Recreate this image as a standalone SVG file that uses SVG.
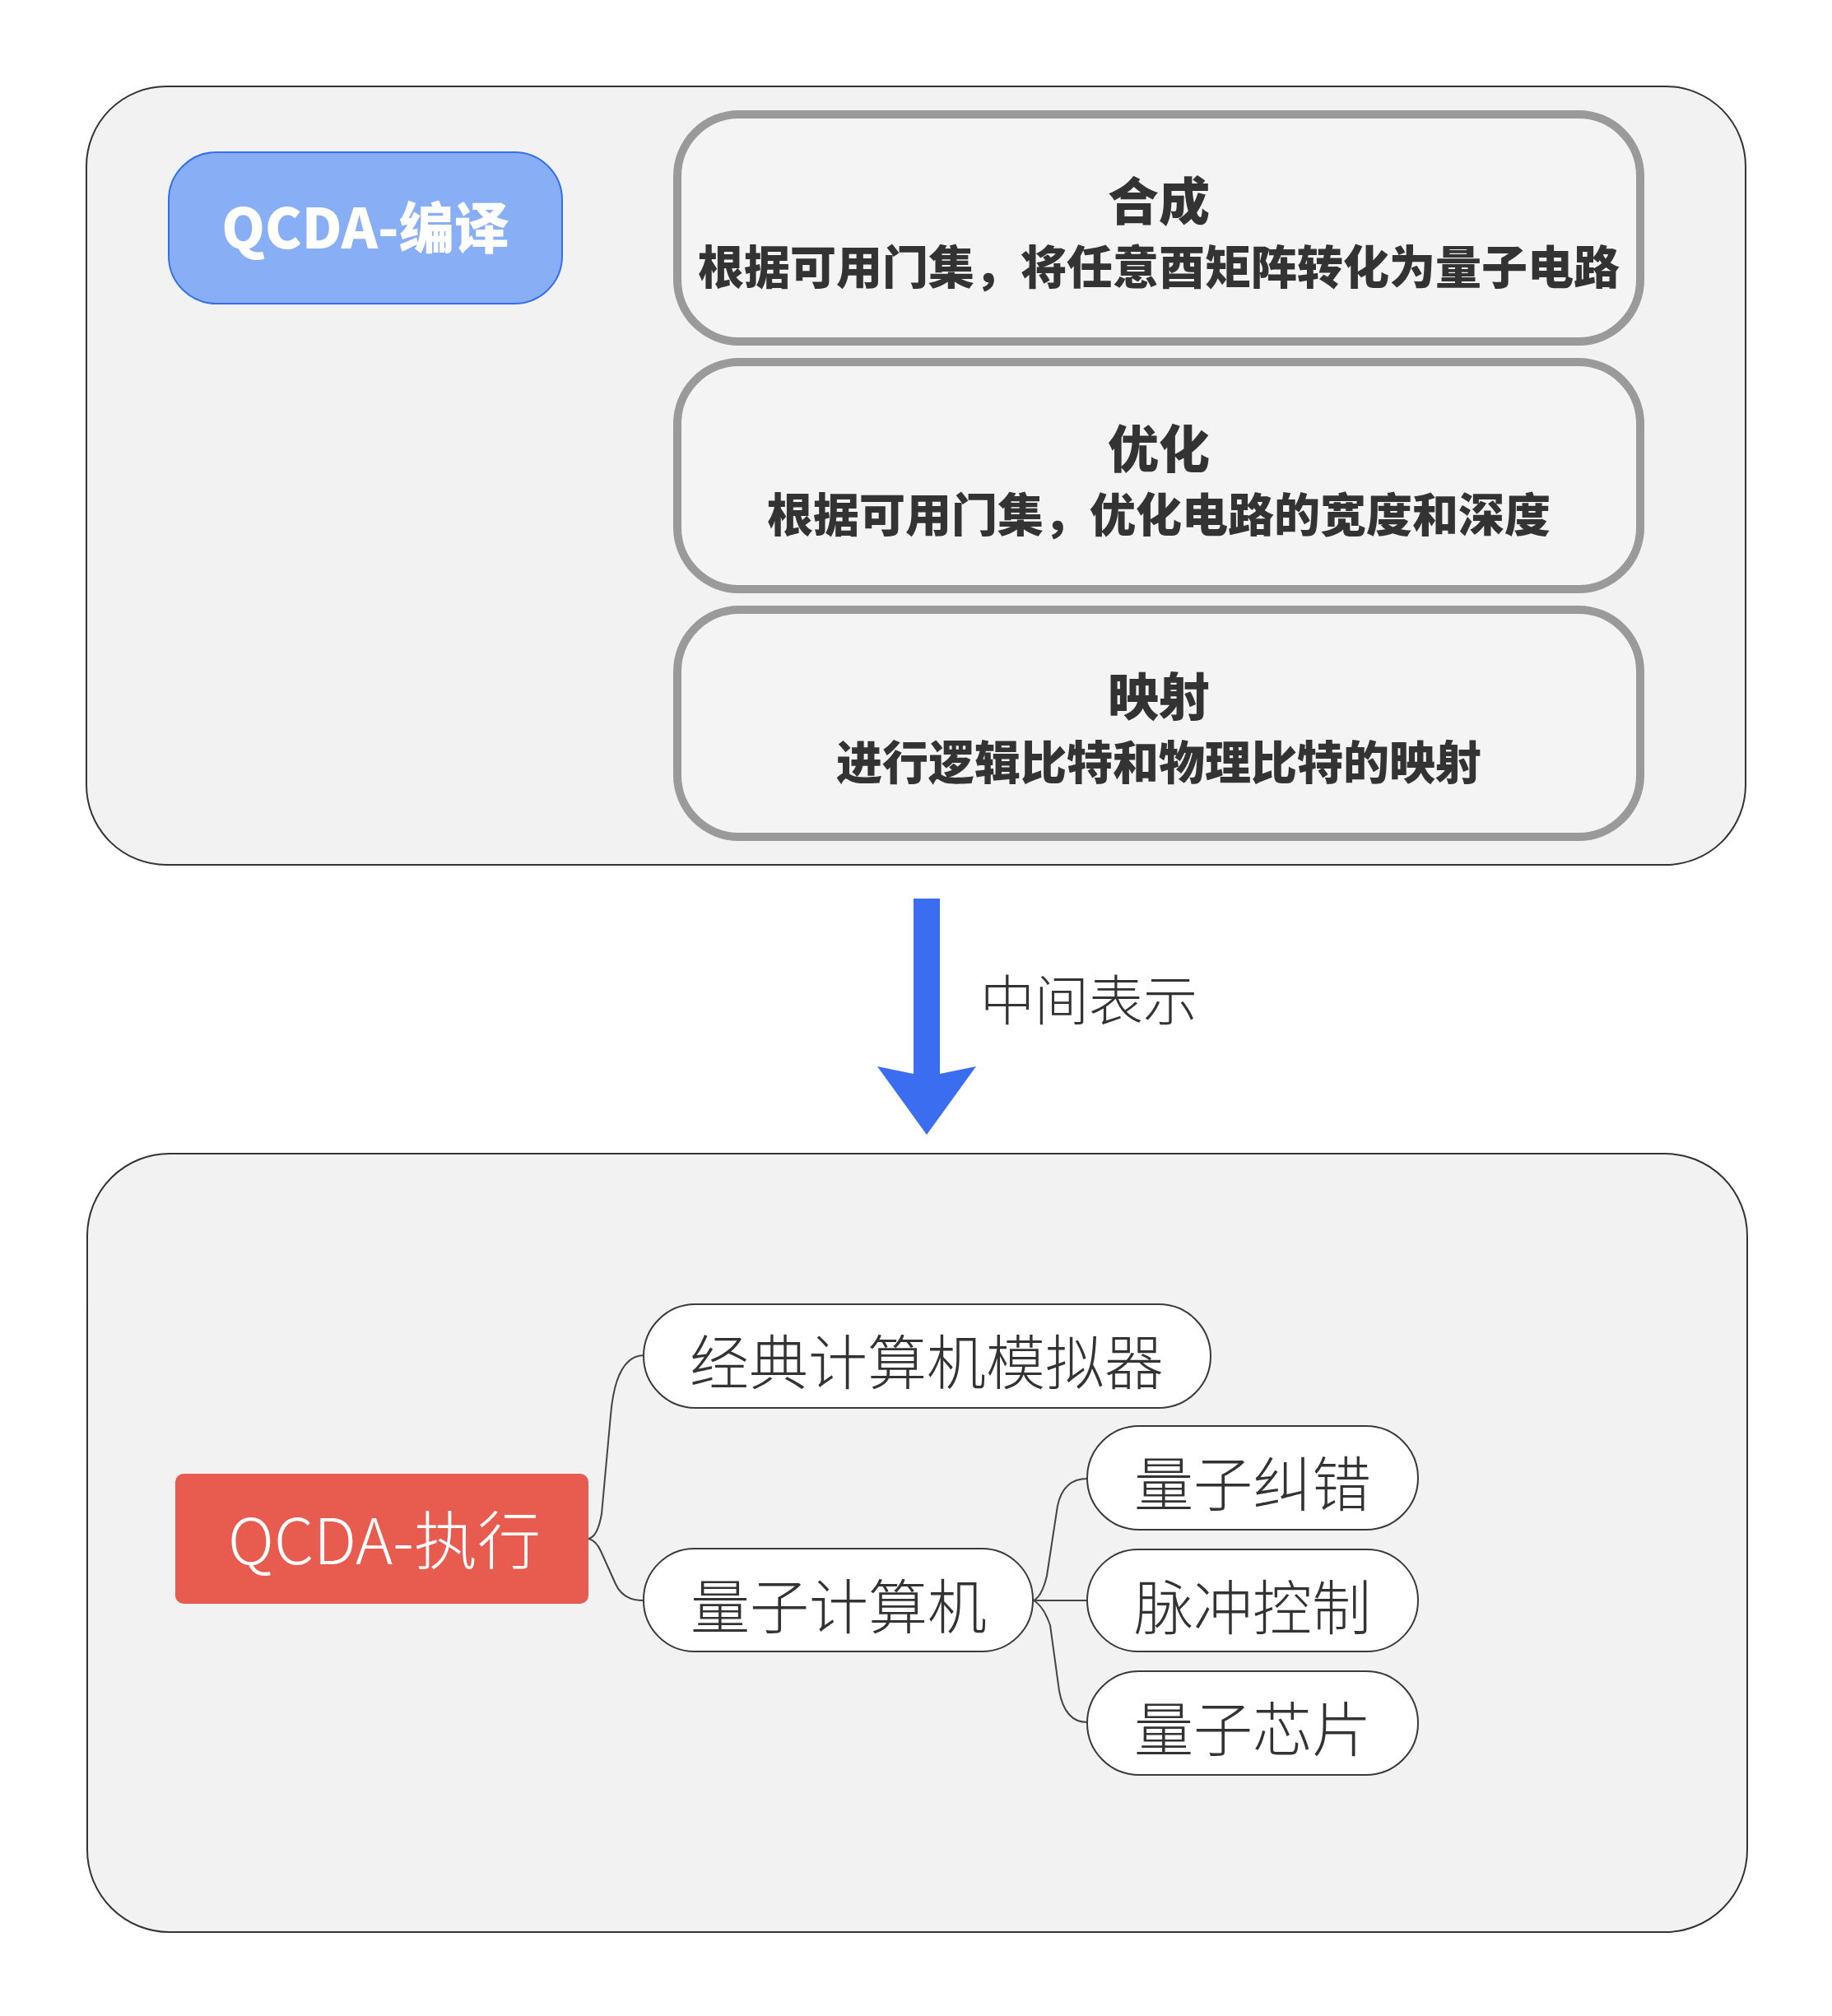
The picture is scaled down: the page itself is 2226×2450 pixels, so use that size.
<svg xmlns="http://www.w3.org/2000/svg" width="2226" height="2450" viewBox="0 0 2226 2450">
<defs>
<style>
.panel{fill:#f2f2f2;stroke:#333;stroke-width:2}
.step{fill:#f4f4f4;stroke:#9a9a9a;stroke-width:10}
.pill{fill:#fff;stroke:#3a3a3a;stroke-width:2}
.bold{font-family:"Noto Sans CJK SC","Noto Sans",sans-serif;font-weight:900;fill:#333;text-anchor:middle}
.light{font-family:"Noto Sans CJK SC","Noto Sans",sans-serif;font-weight:300;fill:#333}
.mid{text-anchor:middle}
.conn{fill:none;stroke:#444;stroke-width:2}
</style>
</defs>
<rect width="2226" height="2450" fill="#fff"/>
<g id="panel-compile">
<rect class="panel" x="105" y="105" width="2016" height="946" rx="97" ry="97"/>
</g>
<g id="node-compile">
<rect x="205" y="185" width="478" height="184" rx="58" ry="58" fill="#88aff5" stroke="#3470ee" stroke-width="2"/>
<text x="444" y="302" class="bold" style="fill:#fff" font-size="67">QCDA-编译</text>
</g>
<g id="node-synthesis">
<rect class="step" x="823" y="139" width="1170" height="276" rx="75" ry="75"/>
<text x="1408" y="268" class="bold" font-size="62">合成</text>
<text x="1408" y="345" class="bold" font-size="56">根据可用门集，将任意酉矩阵转化为量子电路</text>
</g>
<g id="node-optimize">
<rect class="step" x="823" y="440" width="1170" height="276" rx="75" ry="75"/>
<text x="1408" y="569" class="bold" font-size="62">优化</text>
<text x="1408" y="646" class="bold" font-size="56">根据可用门集，优化电路的宽度和深度</text>
</g>
<g id="node-mapping">
<rect class="step" x="823" y="741" width="1170" height="276" rx="75" ry="75"/>
<text x="1408" y="870" class="bold" font-size="62">映射</text>
<text x="1408" y="947" class="bold" font-size="56">进行逻辑比特和物理比特的映射</text>
</g>
<g id="arrow-ir">
<polygon points="1110,1092 1142,1092 1142,1305 1186,1296 1126,1379 1066,1296 1110,1305" fill="#3a6df0"/>
<text x="1191" y="1240" class="light" font-size="66">中间表示</text>
</g>
<g id="panel-execute">
<rect class="panel" x="106" y="1402" width="2017" height="946" rx="100" ry="100"/>
</g>
<g id="connectors">
<path class="conn" d="M715,1870 Q726,1868 731,1840 L742,1720 Q748,1648 782,1647"/>
<path class="conn" d="M715,1870 Q724,1872 730,1885 L748,1925 Q757,1945 782,1945"/>
<path class="conn" d="M1256,1945 Q1266,1940 1272,1915 L1285,1830 Q1292,1797 1321,1797"/>
<path class="conn" d="M1256,1945 L1321,1945"/>
<path class="conn" d="M1256,1945 Q1268,1952 1276,1975 L1287,2055 Q1294,2093 1321,2093"/>
</g>
<g id="node-execute">
<rect x="213" y="1791" width="502" height="158" rx="10" ry="10" fill="#e85c50"/>
<text x="467" y="1901" class="light mid" style="fill:#fff" font-size="77">QCDA-执行</text>
</g>
<g id="node-simulator">
<rect class="pill" x="782" y="1585" width="689" height="126" rx="63" ry="63"/>
<text x="1126" y="1682" class="light mid" font-size="72">经典计算机模拟器</text>
</g>
<g id="node-quantum-computer">
<rect class="pill" x="782" y="1882" width="473" height="125" rx="62" ry="62"/>
<text x="1019" y="1979" class="light mid" font-size="72">量子计算机</text>
</g>
<g id="node-qec">
<rect class="pill" x="1321" y="1733" width="402" height="126" rx="63" ry="63"/>
<text x="1522" y="1830" class="light mid" font-size="72">量子纠错</text>
</g>
<g id="node-pulse">
<rect class="pill" x="1321" y="1883" width="402" height="124" rx="62" ry="62"/>
<text x="1522" y="1980" class="light mid" font-size="72">脉冲控制</text>
</g>
<g id="node-chip">
<rect class="pill" x="1321" y="2031" width="402" height="126" rx="63" ry="63"/>
<text x="1522" y="2128" class="light mid" font-size="72">量子芯片</text>
</g>
</svg>
